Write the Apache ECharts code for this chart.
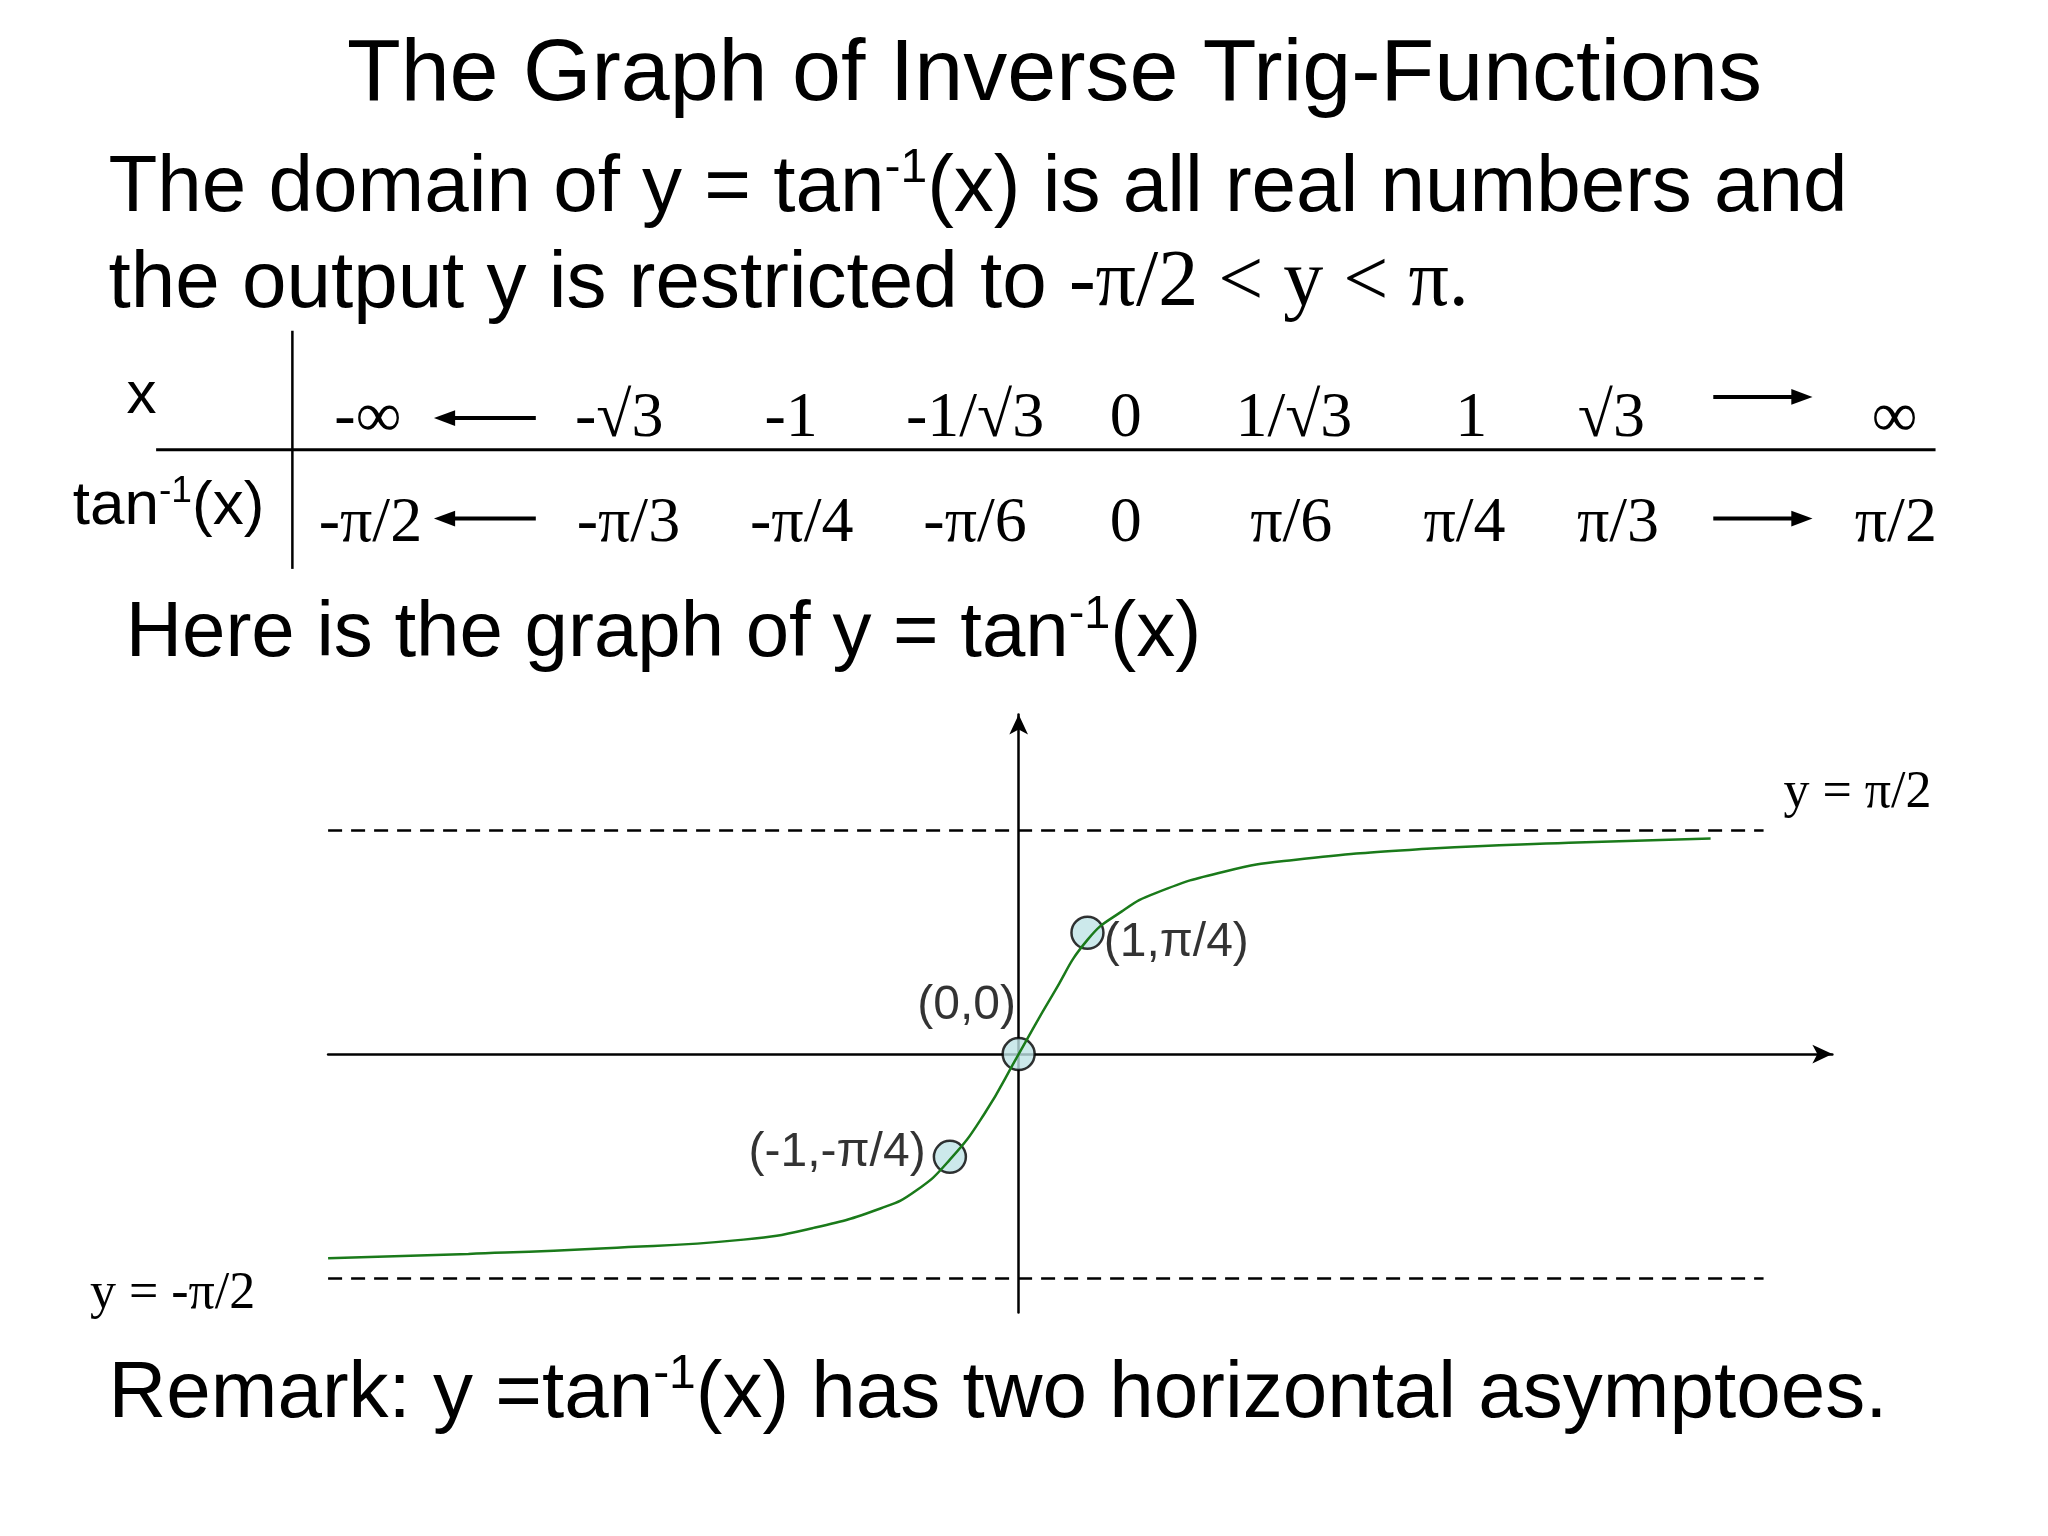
<!DOCTYPE html>
<html><head><meta charset="utf-8">
<script src="https://cdn.jsdelivr.net/npm/echarts@6/dist/echarts.min.js"></script>
<style>html,body{margin:0;background:#fff}#c{width:2048px;height:1536px}</style>
</head><body><div id="c"></div>
<script>
// ---- data ----
const xRowLabels = ['-∞','-√3','-1','-1/√3','0','1/√3','1','√3','∞'];
const tanRowLabels = ['-π/2','-π/3','-π/4','-π/6','0','π/6','π/4','π/3','π/2'];
const curveX = [-10.04,-8,-6,-4,-3,-2,-1.5,-1,-0.5,0,0.5,1,1.5,2,3,4,6,8,10.06];
const curveY = [-1.43,-1.40,-1.36,-1.30,-1.22,-1.08,-0.96,-0.74,-0.42,0,0.42,0.80,1.0,1.13,1.28,1.36,1.44,1.48,1.51];
const pointsX = [-1,0,1];
const pointsY = [-0.72,0,0.85];
const pointLabels = ['(-1,-π/4)','(0,0)','(1,π/4)'];
const asymptotes = [Math.PI/2, -Math.PI/2];
const asymLabels = ['y = π/2','y = -π/2'];

const S = 2048/1548;
const sans = '"Liberation Sans", Arial, sans-serif';
const serif = '"Liberation Serif", "Times New Roman", serif';
const chart = echarts.init(document.getElementById('c'));
const g = [];
function txt(x,y,text,size,font,align,rich){
  g.push({type:'text',x:x*S,y:y*S,style:{text:text,font:size+'px '+font,fill:'#000',
    align:align||'left',verticalAlign:'middle',rich:rich}});
}
function line(x1,y1,x2,y2,w){
  g.push({type:'line',shape:{x1:x1*S,y1:y1*S,x2:x2*S,y2:y2*S},style:{stroke:'#000',lineWidth:w||2}});
}
function arrow(x1,x2,y){
  const dir = x2>x1?1:-1;
  line(x1,y,x2-dir*10,y,4);
  g.push({type:'polygon',shape:{points:[[x2*S,y*S],[(x2-dir*16)*S,(y-6)*S],[(x2-dir*16)*S,(y+6)*S]]},style:{fill:'#000'}});
}
const supRich = (fs)=>({sup:{fontSize:fs*0.6,fontFamily:sans,padding:[0,0,fs*0.45,0],verticalAlign:'bottom'},
  n:{fontSize:fs,fontFamily:sans,verticalAlign:'bottom'}});

txt(797,57,'The Graph of Inverse Trig-Functions',88,sans,'center');
txt(82,141,'{n|The domain of y = tan}{sup|-1}{n|(x) is all real numbers and}',80,sans,'left',supRich(80));
txt(82,215,'the output y is restricted to ',80,sans);
txt(82+ (1.0)*0,215,'',80,sans);
g.push({type:'text',x:82*S,y:215*S,style:{text:'{a|the output y is restricted to }{b|-π/2 < y < π.}',verticalAlign:'middle',fill:'#000',
  rich:{a:{fontSize:80,fontFamily:sans},b:{fontSize:80,fontFamily:serif}}}});
g.pop(); g.splice(g.length-2,2);
g.push({type:'text',x:82*S,y:215*S,style:{text:'{a|the output y is restricted to }{b|-π/2 < y < π.}',verticalAlign:'middle',fill:'#000',
  rich:{a:{fontSize:80,fontFamily:sans},b:{fontSize:80,fontFamily:serif}}}});

// table
line(221,250,221,430,2.5);
line(118,340,1463,340,3);
txt(107,300,'x',60,sans,'center');
txt(55,382,'{n|tan}{sup|-1}{n|(x)}',62,sans,'left',supRich(62));
const row1X=[278,468,598,737,851,978,1112,1218,1432];
const row2X=[280,475,606,737,851,976,1107,1223,1433];
xRowLabels.forEach((t,i)=>txt(row1X[i],317,t,64,serif,'center'));
tanRowLabels.forEach((t,i)=>txt(row2X[i],396,t,64,serif,'center'));
arrow(405,328,316); arrow(1295,1370,300);
arrow(405,328,392); arrow(1295,1370,392);

txt(95,478,'{n|Here is the graph of y = tan}{sup|-1}{n|(x)}',78,sans,'left',supRich(78));
txt(82,1053,'{n|Remark: y =tan}{sup|-1}{n|(x) has two horizontal asymptoes.}',80,sans,'left',supRich(80));
txt(1348,600,asymLabels[0],52,serif,'left');
txt(68,978,asymLabels[1],52,serif,'left');

const axisCommon = {type:'value',axisTick:{show:false},axisLabel:{show:false},splitLine:{show:false},
  axisLine:{onZero:true,symbol:['none','arrow'],symbolSize:[14,20],lineStyle:{color:'#000',width:2.5}}};
chart.setOption({
  animation:false,
  grid:{left:248*S,right:2048-1385*S,top:540*S,bottom:1536-992*S},
  xAxis:Object.assign({},axisCommon,{min:-10.04,max:11.83}),
  yAxis:Object.assign({},axisCommon,{min:-1.81,max:2.38}),
  graphic:g,
  series:[
    {type:'line',data:asymptotes.map(()=>null),silent:true,symbol:'none',
      markLine:{silent:true,symbol:'none',label:{show:false},
        lineStyle:{type:[14,9],color:'#000',width:2.5},
        data:asymptotes.map(v=>[{coord:[-10.04,v]},{coord:[10.83,v]}])}},
    {type:'line',smooth:true,symbol:'none',lineStyle:{color:'#1a7a1a',width:2.5},
      data:curveX.map((x,i)=>[x,curveY[i]])},
    {type:'scatter',symbolSize:32,itemStyle:{color:'#bfe3e6',borderColor:'#000',borderWidth:2.5},
      data:pointsX.map((x,i)=>[x,pointsY[i]]),
      label:{show:true,formatter:p=>pointLabels[p.dataIndex],fontFamily:sans,fontSize:48,color:'#000',
        position:(p)=>'left',
      },
      labelLayout:null}
  ]
});
// per-point label positions
chart.setOption({series:[{},{},{data:[
  {value:[pointsX[0],pointsY[0]],label:{position:'left',offset:[-2,-4]}},
  {value:[pointsX[1],pointsY[1]],label:{position:'top',offset:[-52,-2]}},
  {value:[pointsX[2],pointsY[2]],label:{position:'right',offset:[-6,10]}}
]}]});
</script></body></html>
